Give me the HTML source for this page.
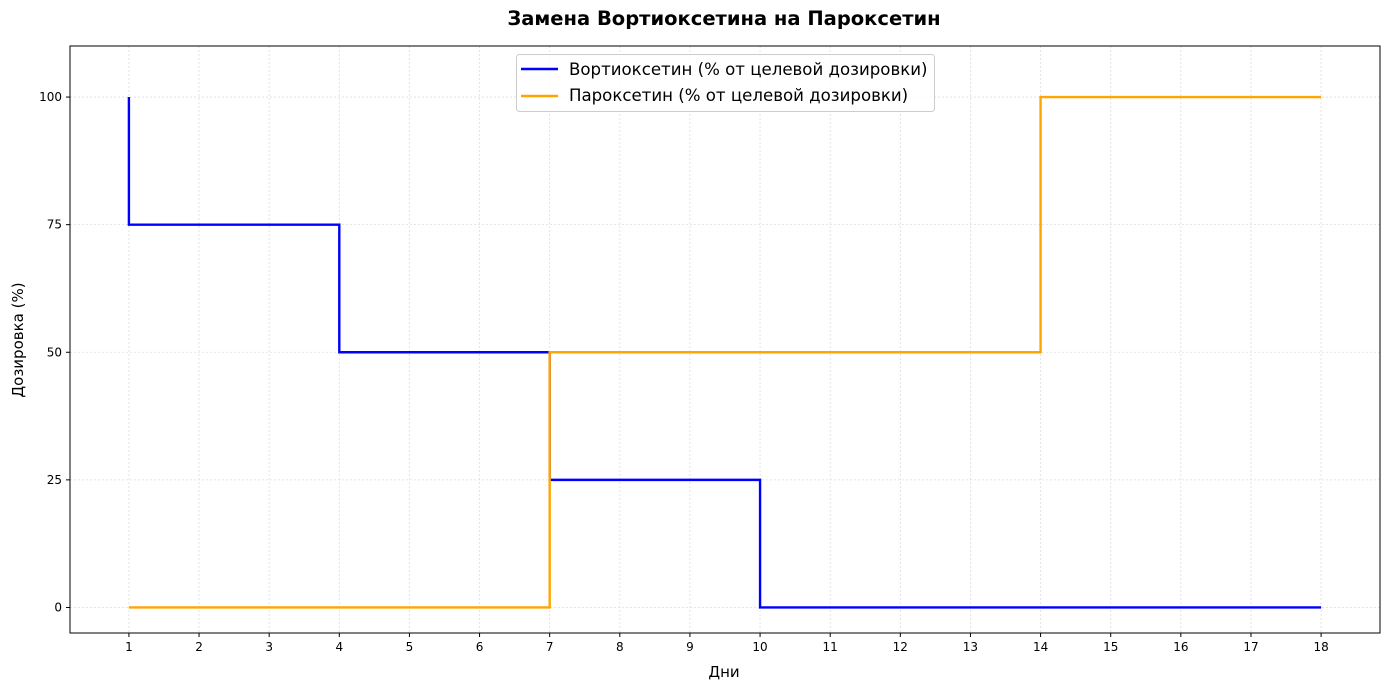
<!DOCTYPE html>
<html><head><meta charset="utf-8"><style>
html,body{margin:0;padding:0;background:#fff;}
svg{display:block;font-family:"DejaVu Sans","Liberation Sans",sans-serif;}
</style></head><body>
<svg id="chart" width="1389" height="690">
<text x="724" y="25" text-anchor="middle" font-size="19.5" font-weight="bold">Замена Вортиоксетина на Пароксетин</text>
<g id="grid"></g>
<g id="series"></g>
<g id="axes"></g>
<text x="724" y="677" text-anchor="middle" font-size="15">Дни</text>
<text transform="translate(23,340) rotate(-90)" text-anchor="middle" font-size="15">Дозировка (%)</text>
<g>
<rect x="516.5" y="54.5" width="418" height="57" rx="3" fill="#fff" fill-opacity="0.8" stroke="#ccc"/>
<g>
<line x1="521" y1="69" x2="558" y2="69" stroke="#0000ff" stroke-width="2.5"/>
<text x="569" y="75" font-size="16.6">Вортиоксетин (% от целевой дозировки)</text></g>
<g>
<line x1="521" y1="96" x2="558" y2="96" stroke="#ffa500" stroke-width="2.5"/>
<text x="569" y="101" font-size="16.6">Пароксетин (% от целевой дозировки)</text></g>
</g>
</svg>
<script>
const days=[1,2,3,4,5,6,7,8,9,10,11,12,13,14,15,16,17,18];
const vortioxetine=[100,75,75,75,50,50,50,25,25,25,0,0,0,0,0,0,0,0];
const paroxetine=[0,0,0,0,0,0,0,50,50,50,50,50,50,50,100,100,100,100];
const yTicks=[0,25,50,75,100];
const NS="http://www.w3.org/2000/svg";
const L=70,R=1380,T=46,B=633;
const xMin=0.16,xMax=18.84,yMin=-5,yMax=110;
const sx=v=>L+(v-xMin)/(xMax-xMin)*(R-L);
const sy=v=>B-(v-yMin)/(yMax-yMin)*(B-T);
function mk(tag,attrs,parent){const e=document.createElementNS(NS,tag);for(const k in attrs)e.setAttribute(k,attrs[k]);document.getElementById(parent).appendChild(e);return e;}
days.forEach(d=>{
 const g=mk('line',{x1:sx(d),x2:sx(d),y1:T,y2:B,stroke:'#ddd','stroke-width':0.8,'stroke-dasharray':'2,2'},'grid');
 
 
 const t=mk('line',{x1:sx(d),x2:sx(d),y1:B,y2:B+4,stroke:'#000'},'axes');
 
 
 const l=mk('text',{x:sx(d),y:B+18,'text-anchor':'middle','font-size':12},'axes');l.textContent=d;
 
 
});
yTicks.forEach(v=>{
 const g=mk('line',{x1:L,x2:R,y1:sy(v),y2:sy(v),stroke:'#ddd','stroke-width':0.8,'stroke-dasharray':'2,2'},'grid');
 
 
 const t=mk('line',{x1:L-4,x2:L,y1:sy(v),y2:sy(v),stroke:'#000'},'axes');
 
 
 const l=mk('text',{x:L-8,y:sy(v)+4,'text-anchor':'end','font-size':12},'axes');l.textContent=v;
 
 
});
const frame=mk('rect',{x:L,y:T,width:R-L,height:B-T,fill:'none',stroke:'#000','stroke-width':1},'axes');


function stepPre(vals){let p='M'+sx(days[0])+','+sy(vals[0]);for(let i=1;i<days.length;i++){p+=' V'+sy(vals[i])+' H'+sx(days[i]);}return p;}
const p1=mk('path',{d:stepPre(vortioxetine),fill:'none',stroke:'#0000ff','stroke-width':2.4},'series');


const p2=mk('path',{d:stepPre(paroxetine),fill:'none',stroke:'#ffa500','stroke-width':2.4},'series');


</script>
</body></html>
